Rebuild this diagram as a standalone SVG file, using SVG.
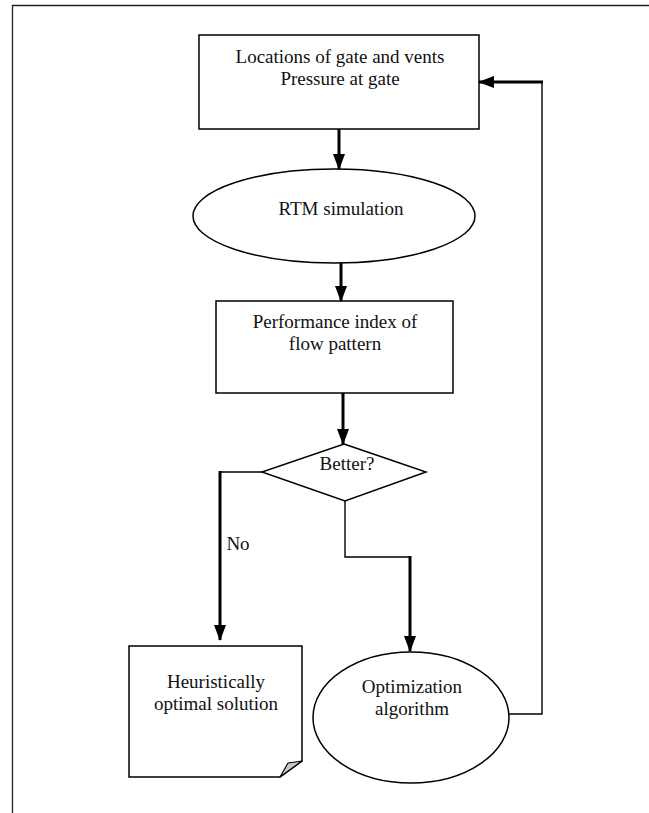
<svg xmlns="http://www.w3.org/2000/svg" width="649" height="813" viewBox="0 0 649 813">
<style>
.n{fill:#fff;stroke:#000;stroke-width:1.5}
.t{font-family:"Liberation Serif","Times New Roman",serif;font-size:19px;fill:#111;text-anchor:middle}
.thin{fill:none;stroke:#000;stroke-width:1.4}
.thick{fill:none;stroke:#000;stroke-width:3}
</style>
<defs>
<marker id="ah" markerUnits="userSpaceOnUse" markerWidth="16" markerHeight="12" viewBox="0 0 16 12" refX="15" refY="6" orient="auto">
<path d="M0,0 L16,6 L0,12 Z" fill="#000"/>
</marker>
</defs>
<rect width="649" height="813" fill="#fff"/>
<g id="frame">
<path d="M12.5,813 V5.5 H649" fill="none" stroke="#222" stroke-width="1.3"/>
</g>
<g id="n1">
<rect class="n" x="199" y="35" width="280" height="94"/>
<text class="t" x="340" y="63">Locations of gate and vents</text>
<text class="t" x="340" y="85">Pressure at gate</text>
</g>
<g id="n2">
<ellipse class="n" cx="334" cy="216" rx="141" ry="47"/>
<text class="t" x="341" y="215">RTM simulation</text>
</g>
<g id="n3">
<rect class="n" x="216" y="301" width="237" height="92"/>
<text class="t" x="335" y="328">Performance index of</text>
<text class="t" x="335" y="350">flow pattern</text>
</g>
<g id="n4">
<path class="n" d="M344,444 L426,472 L345,501 L262,472 Z"/>
<text class="t" x="347" y="470">Better?</text>
</g>
<g id="n5">
<path class="n" d="M129,646 H302 V761 L280,777 H129 Z"/>
<path d="M280,777 L288,763 L302,761 Z" fill="#c8c8c8" stroke="#000" stroke-width="1.2" stroke-linejoin="round"/>
<text class="t" x="216" y="688">Heuristically</text>
<text class="t" x="216" y="710">optimal solution</text>
</g>
<g id="n6">
<ellipse class="n" cx="411" cy="717.5" rx="98" ry="65.5"/>
<text class="t" x="412" y="693">Optimization</text>
<text class="t" x="412" y="715">algorithm</text>
</g>
<g id="connectors">
<path class="thick" d="M339,129 V169" marker-end="url(#ah)"/>
<path class="thick" d="M341,263 V301" marker-end="url(#ah)"/>
<path class="thick" d="M343,393 V444" marker-end="url(#ah)"/>
<path class="thin" d="M262,472 H220"/>
<path class="thick" d="M220,471 V640" marker-end="url(#ah)"/>
<text class="t" x="238" y="550">No</text>
<path class="thin" d="M345,501 V557 H410"/>
<path class="thick" d="M410,556 V651" marker-end="url(#ah)"/>
<path class="thin" d="M509,714 H542 V82"/>
<path class="thick" d="M543,82 H479" marker-end="url(#ah)"/>
</g>
</svg>
